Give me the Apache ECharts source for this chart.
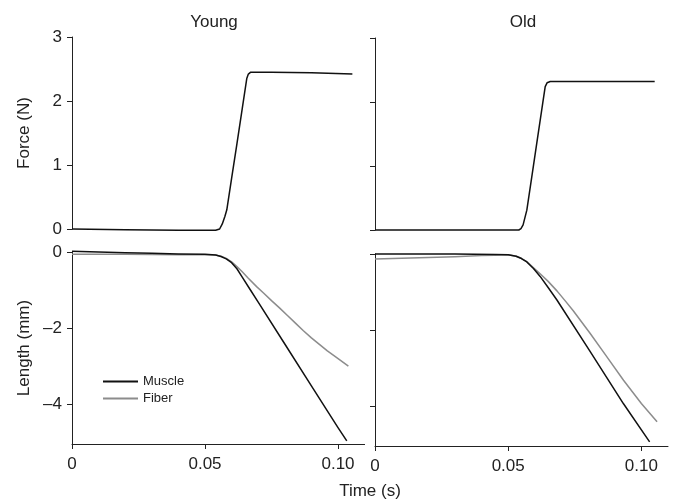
<!DOCTYPE html>
<html>
<head>
<meta charset="utf-8">
<script src="https://cdn.jsdelivr.net/npm/echarts@6/dist/echarts.min.js"></script>
<style>html,body{margin:0;padding:0;background:#fff;}#c{width:675px;height:501px;}</style>
</head>
<body>
<div id="c"></div>
<script>
// ---- Data (time in s, force in N, length in mm) ----
const panelTitles = ['Young', 'Old'];
const xTicks = [0, 0.05, 0.10];
const forceTicks = [0, 1, 2, 3];
const lengthTicks = [-4, -2, 0];

const youngForce = [[0,0.0],[0.02,-0.01],[0.04,-0.02],[0.054,-0.02],[0.0555,0.0],[0.0565,0.08],[0.0575,0.2],[0.0582,0.30],[0.060,0.79],[0.062,1.33],[0.064,1.88],[0.0657,2.35],[0.0663,2.42],[0.0672,2.45],[0.075,2.45],[0.09,2.44],[0.1054,2.42]];
const oldForce = [[0,0.0],[0.054,0.0],[0.0548,0.02],[0.0556,0.08],[0.057,0.31],[0.059,0.87],[0.061,1.43],[0.063,1.99],[0.0639,2.24],[0.0646,2.30],[0.0658,2.32],[0.08,2.32],[0.105,2.32]];

const youngMuscle = [[0,0.02],[0.01,0.0],[0.02,-0.02],[0.03,-0.03],[0.04,-0.05],[0.05,-0.06],[0.054,-0.08],[0.056,-0.12],[0.058,-0.18],[0.060,-0.28],[0.062,-0.44],[0.064,-0.66],[0.0669,-0.98],[0.07,-1.32],[0.08,-2.42],[0.09,-3.52],[0.1,-4.62],[0.1033,-4.97]];
const youngFiber = [[0,-0.06],[0.02,-0.06],[0.04,-0.07],[0.05,-0.07],[0.054,-0.08],[0.056,-0.11],[0.058,-0.17],[0.060,-0.26],[0.062,-0.38],[0.064,-0.52],[0.066,-0.67],[0.0694,-0.91],[0.072,-1.08],[0.075,-1.28],[0.078,-1.47],[0.081,-1.67],[0.084,-1.87],[0.087,-2.07],[0.090,-2.26],[0.093,-2.43],[0.096,-2.60],[0.099,-2.75],[0.1039,-3.0]];

const oldMuscle = [[0,0.0],[0.03,0.0],[0.045,-0.01],[0.05,-0.02],[0.053,-0.06],[0.055,-0.12],[0.057,-0.21],[0.0595,-0.38],[0.062,-0.59],[0.065,-0.88],[0.0683,-1.21],[0.0808,-2.57],[0.0933,-3.94],[0.1031,-4.94]];
const oldFiber = [[0,-0.13],[0.01,-0.11],[0.02,-0.09],[0.03,-0.07],[0.04,-0.04],[0.045,-0.03],[0.05,-0.02],[0.053,-0.06],[0.055,-0.12],[0.057,-0.2],[0.0595,-0.36],[0.062,-0.52],[0.065,-0.72],[0.0683,-0.97],[0.0715,-1.24],[0.0745,-1.5],[0.0808,-2.09],[0.087,-2.7],[0.0933,-3.32],[0.1,-3.93],[0.1059,-4.41]];

// ---- Chart ----
const FONT = 'Liberation Sans, Arial, sans-serif';
const TXT = '#222';
const AX = '#222';
const chart = echarts.init(document.getElementById('c'), null, {renderer: 'canvas'});

function xAxisCfg(gridIndex, visible) {
  return {
    type: 'value', gridIndex: gridIndex, min: 0, max: 0.11, show: visible,
    axisLine: {show: visible, onZero: false, lineStyle: {color: AX, width: 1}},
    axisTick: {show: visible, length: 5, inside: false, customValues: xTicks, lineStyle: {color: AX}},
    axisLabel: {show: visible, customValues: xTicks, margin: 12, fontSize: 17, fontFamily: FONT, color: TXT,
      formatter: v => (v === 0 ? '0' : v.toFixed(2))},
    splitLine: {show: false}
  };
}
function yForce(gridIndex, labels) {
  return {
    type: 'value', gridIndex: gridIndex, min: 0, max: 3, interval: 1,
    name: labels ? 'Force (N)' : '', nameLocation: 'middle', nameGap: 39,
    nameTextStyle: {fontSize: 17, fontFamily: FONT, color: TXT},
    axisLine: {show: true, onZero: false, lineStyle: {color: AX, width: 1}},
    axisTick: {show: true, length: 5, customValues: forceTicks, lineStyle: {color: AX}},
    axisLabel: {show: labels, customValues: forceTicks, margin: 10, fontSize: 17, fontFamily: FONT, color: TXT},
    splitLine: {show: false}
  };
}
function yLength(gridIndex, labels) {
  return {
    type: 'value', gridIndex: gridIndex, min: -5.05, max: 0,
    name: labels ? 'Length (mm)' : '', nameLocation: 'middle', nameGap: 39,
    nameTextStyle: {fontSize: 17, fontFamily: FONT, color: TXT},
    axisLine: {show: true, onZero: false, lineStyle: {color: AX, width: 1}},
    axisTick: {show: true, length: 5, customValues: lengthTicks, lineStyle: {color: AX}},
    axisLabel: {show: labels, customValues: lengthTicks, margin: 10, fontSize: 17, fontFamily: FONT, color: TXT,
      formatter: v => (v === 0 ? '0' : '\u2013' + Math.abs(v))},
    splitLine: {show: false}
  };
}
function lineSeries(name, data, xi, yi, color) {
  return {
    name: name, type: 'line', xAxisIndex: xi, yAxisIndex: yi, data: data,
    showSymbol: false, symbol: 'none', smooth: false, clip: false,
    lineStyle: {color: color, width: 1.5, join: 'round'}, itemStyle: {color: color},
    emphasis: {disabled: true}
  };
}

const MUSCLE = '#111111';
const FIBER = '#8c8c8c';

chart.setOption({
  animation: false,
  backgroundColor: '#ffffff',
  title: [
    {text: panelTitles[0], left: 209, top: 9, textAlign: 'center', textStyle: {fontSize: 17, fontWeight: 'normal', fontFamily: FONT, color: TXT}},
    {text: panelTitles[1], left: 518, top: 9, textAlign: 'center', textStyle: {fontSize: 17, fontWeight: 'normal', fontFamily: FONT, color: TXT}},
    {text: 'Time (s)', left: 365, top: 478, textAlign: 'center', textStyle: {fontSize: 17, fontWeight: 'normal', fontFamily: FONT, color: TXT}}
  ],
  legend: {
    data: ['Muscle', 'Fiber'], orient: 'vertical', left: 98, top: 370,
    icon: 'rect', itemWidth: 35, itemHeight: 2, itemGap: 4, itemTextGap: 4,
    textStyle: {fontSize: 13, fontFamily: FONT, color: TXT}, selectedMode: false
  },
  grid: [
    {left: 72, top: 37, width: 292.6, height: 192},
    {left: 375, top: 38, width: 293, height: 192},
    {left: 72, top: 252, width: 292.6, height: 192},
    {left: 375, top: 254, width: 293, height: 192}
  ],
  xAxis: [xAxisCfg(0, false), xAxisCfg(1, false), xAxisCfg(2, true), xAxisCfg(3, true)],
  yAxis: [yForce(0, true), yForce(1, false), yLength(2, true), yLength(3, false)],
  series: [
    lineSeries('Young force', youngForce, 0, 0, MUSCLE),
    lineSeries('Old force', oldForce, 1, 1, MUSCLE),
    lineSeries('Fiber', youngFiber, 2, 2, FIBER),
    lineSeries('Muscle', youngMuscle, 2, 2, MUSCLE),
    lineSeries('Fiber', oldFiber, 3, 3, FIBER),
    lineSeries('Muscle', oldMuscle, 3, 3, MUSCLE)
  ]
});
</script>
</body>
</html>
